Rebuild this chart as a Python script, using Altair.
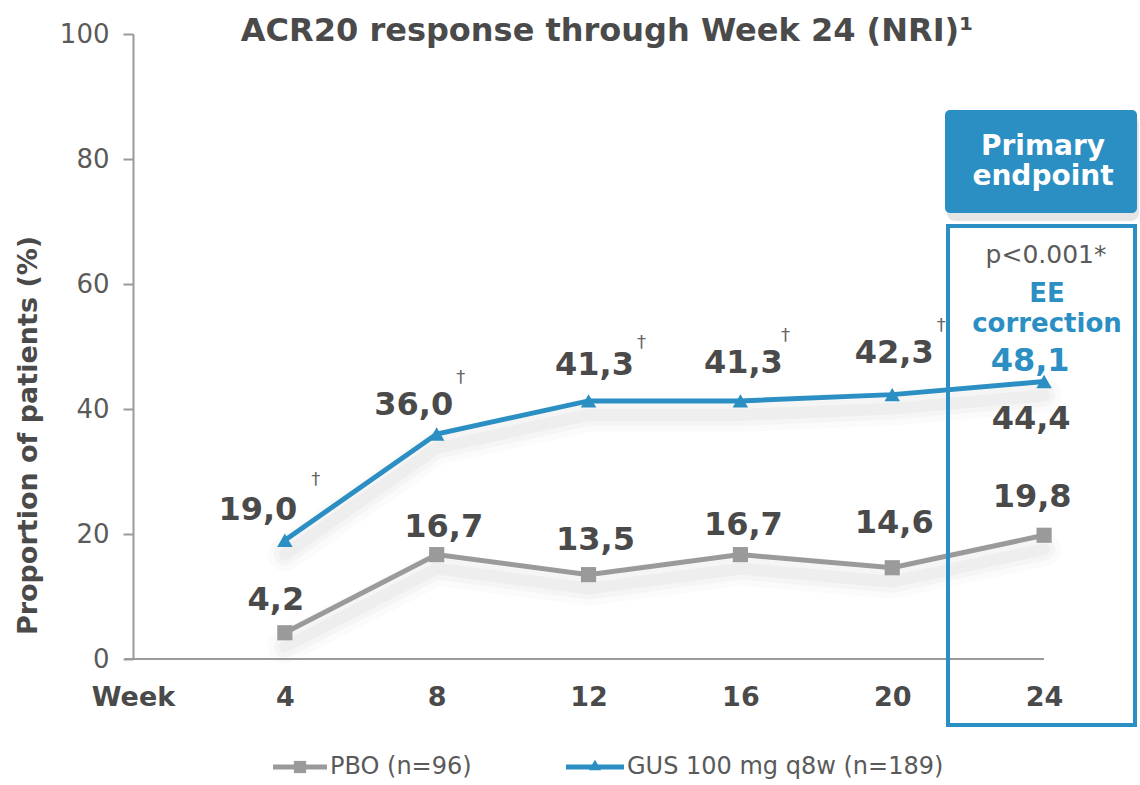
import altair as alt
import pandas as pd

# ---- data -------------------------------------------------------------
weeks = [4, 8, 12, 16, 20, 24]
pbo = [4.2, 16.7, 13.5, 16.7, 14.6, 19.8]
gus = [19.0, 36.0, 41.3, 41.3, 42.3, 44.4]
gus_ee_wk24 = 48.1
y_ticks = [0, 20, 40, 60, 80, 100]
x_ticks = [0, 4, 8, 12, 16, 20, 24]
sig_weeks = [4, 8, 12, 16, 20]

pbo_name = "PBO (n=96)"
gus_name = "GUS 100 mg q8w (n=189)"
title_text = "ACR20 response through Week 24 (NRI)¹"
y_title = "Proportion of patients (%)"


def fmt(v):
    return f"{v:.1f}".replace(".", ",")


df = pd.DataFrame({
    "week": weeks,
    "pbo": pbo,
    "gus": gus,
    "pbo_lbl": [fmt(v) for v in pbo],
    "gus_lbl": [fmt(v) for v in gus],
})
ee_df = pd.DataFrame({"week": [weeks[-1]], "gus": [gus[-1]], "lbl": [fmt(gus_ee_wk24)]})
one = pd.DataFrame({"k": [0]})

# ---- style ------------------------------------------------------------
BLUE = "#2b8fc3"
GRAY = "#9a9a9a"
DARK = "#4a4a4a"
MID = "#5a5a5a"
FONT = "DejaVu Sans"

x_enc = alt.X(
    "week:Q",
    scale=alt.Scale(domain=[0, 26.5], nice=False, zero=False),
    axis=alt.Axis(
        values=x_ticks,
        labelExpr="datum.value == 0 ? 'Week' : datum.label",
        domain=False, ticks=False, tickSize=0, grid=False,
        labelFont=FONT, labelFontSize=27, labelFontWeight="bold", labelColor=DARK,
        labelBaseline="alphabetic", labelPadding=46,
        labelFlush=False, labelOverlap=False, title=None,
    ),
)


def y_enc(field):
    return alt.Y(
        f"{field}:Q",
        scale=alt.Scale(domain=[0, 100], nice=False),
        axis=alt.Axis(
            values=y_ticks, grid=False,
            domainColor=GRAY, domainWidth=2,
            tickColor=GRAY, tickWidth=2, tickSize=10,
            labelFont=FONT, labelFontSize=26, labelColor=MID, labelPadding=14,
            title=y_title, titleFont=FONT, titleFontSize=27, titleFontWeight="bold",
            titleColor=DARK, titleAngle=270, titleAlign="center", titleBaseline="middle",
            titleX=-105, titleY=401,
        ),
    )


base = alt.Chart(df)
layers = []

# soft drop shadow under both lines
for w, op in [(34, 0.025), (22, 0.035), (12, 0.045)]:
    for field in ["gus", "pbo"]:
        layers.append(
            base.mark_line(color="#555555", strokeWidth=w, opacity=op, yOffset=14,
                           strokeCap="round", strokeJoin="round")
            .encode(x=x_enc, y=y_enc(field))
        )

# x axis baseline
layers.append(
    alt.Chart(one).mark_rule(color=GRAY, strokeWidth=2)
    .encode(x=alt.value(-8), x2=alt.value(911), y=alt.value(625))
)

# series
layers.append(base.mark_line(color=GRAY, strokeWidth=5).encode(x=x_enc, y=y_enc("pbo")))
layers.append(base.mark_square(color=GRAY, size=230, opacity=1).encode(x=x_enc, y=y_enc("pbo")))
layers.append(base.mark_line(color=BLUE, strokeWidth=5).encode(x=x_enc, y=y_enc("gus")))
layers.append(
    base.mark_point(shape="triangle-up", filled=True, color=BLUE, size=240, opacity=1)
    .encode(x=x_enc, y=y_enc("gus"))
)

# value labels (pixel nudges per week)
gus_nudge = {4: (-27, -20), 8: (-23, -19), 12: (6, -26), 16: (3, -28), 20: (2, -32), 24: (-13, 47)}
pbo_nudge = {4: (-9, -23), 8: (7, -18), 12: (7, -25), 16: (3, -20), 20: (2, -35), 24: (-12, -28)}
dag_nudge = {4: (31, -60), 8: (24, -56), 12: (53, -58), 16: (45, -65), 20: (49, -69)}

for field, nudge in [("gus", gus_nudge), ("pbo", pbo_nudge)]:
    for wk in weeks:
        dx, dy = nudge[wk]
        layers.append(
            base.transform_filter(alt.datum.week == wk)
            .mark_text(font=FONT, fontSize=32, fontWeight="bold", color=DARK,
                       align="center", baseline="alphabetic", dx=dx, dy=dy)
            .encode(x=x_enc, y=y_enc(field), text=f"{field}_lbl:N")
        )

for wk in sig_weeks:
    dx, dy = dag_nudge[wk]
    layers.append(
        base.transform_filter(alt.datum.week == wk)
        .mark_text(text="†", font=FONT, fontSize=18, color="#666666",
                   align="center", baseline="middle", dx=dx, dy=dy)
        .encode(x=x_enc, y=y_enc("gus"))
    )

# EE-corrected week 24 value
layers.append(
    alt.Chart(ee_df).mark_text(font=FONT, fontSize=32, fontWeight="bold", color=BLUE,
                               align="center", baseline="alphabetic", dx=-14, dy=-11)
    .encode(x=x_enc, y=y_enc("gus"), text="lbl:N")
)

# primary endpoint call-out
layers.append(
    alt.Chart(one).mark_rect(color="#000000", opacity=0.10, cornerRadius=8)
    .encode(x=alt.value(814), x2=alt.value(1006), y=alt.value(82), y2=alt.value(187))
)
layers.append(
    alt.Chart(one).mark_rect(color=BLUE, cornerRadius=5)
    .encode(x=alt.value(812), x2=alt.value(1004), y=alt.value(76), y2=alt.value(179))
)
layers.append(
    alt.Chart(one).mark_rect(fillOpacity=0, stroke=BLUE, strokeWidth=4)
    .encode(x=alt.value(815), x2=alt.value(1002), y=alt.value(192), y2=alt.value(691))
)


def label(text, x, y, size, color, weight="normal", align="center", baseline="alphabetic"):
    return alt.Chart(one).mark_text(
        text=text, font=FONT, fontSize=size, fontWeight=weight, color=color,
        align=align, baseline=baseline,
    ).encode(x=alt.value(x), y=alt.value(y))


layers += [
    label("Primary", 910, 121, 28, "white", "bold"),
    label("endpoint", 910, 151, 28, "white", "bold"),
    label("p<0.001*", 913, 229, 25, MID),
    label("EE", 914, 268, 26, BLUE, "bold"),
    label("correction", 914, 298, 26, BLUE, "bold"),
    label(title_text, 474, 7, 32, DARK, "bold"),
]

# legend
layers += [
    alt.Chart(one).mark_rule(color=GRAY, strokeWidth=5)
    .encode(x=alt.value(140), x2=alt.value(194), y=alt.value(733)),
    alt.Chart(one).mark_square(color=GRAY, size=150, opacity=1)
    .encode(x=alt.value(167), y=alt.value(733)),
    label(pbo_name, 197, 733, 24, MID, align="left", baseline="middle"),
    alt.Chart(one).mark_rule(color=BLUE, strokeWidth=5)
    .encode(x=alt.value(433), x2=alt.value(491), y=alt.value(733)),
    alt.Chart(one).mark_point(shape="triangle-up", filled=True, color=BLUE, size=150, opacity=1)
    .encode(x=alt.value(462), y=alt.value(731)),
    label(gus_name, 494, 733, 24, MID, align="left", baseline="middle"),
]

chart = (
    alt.layer(*layers)
    .properties(
        width=1006, height=625,
        autosize=alt.AutoSizeParams(type="none"),
        padding={"left": 133, "top": 34, "right": 1, "bottom": 126},
        background="white",
    )
    .configure_view(stroke=None)
)

chart.save("out.html", embed_options={"renderer": "svg", "actions": False})
